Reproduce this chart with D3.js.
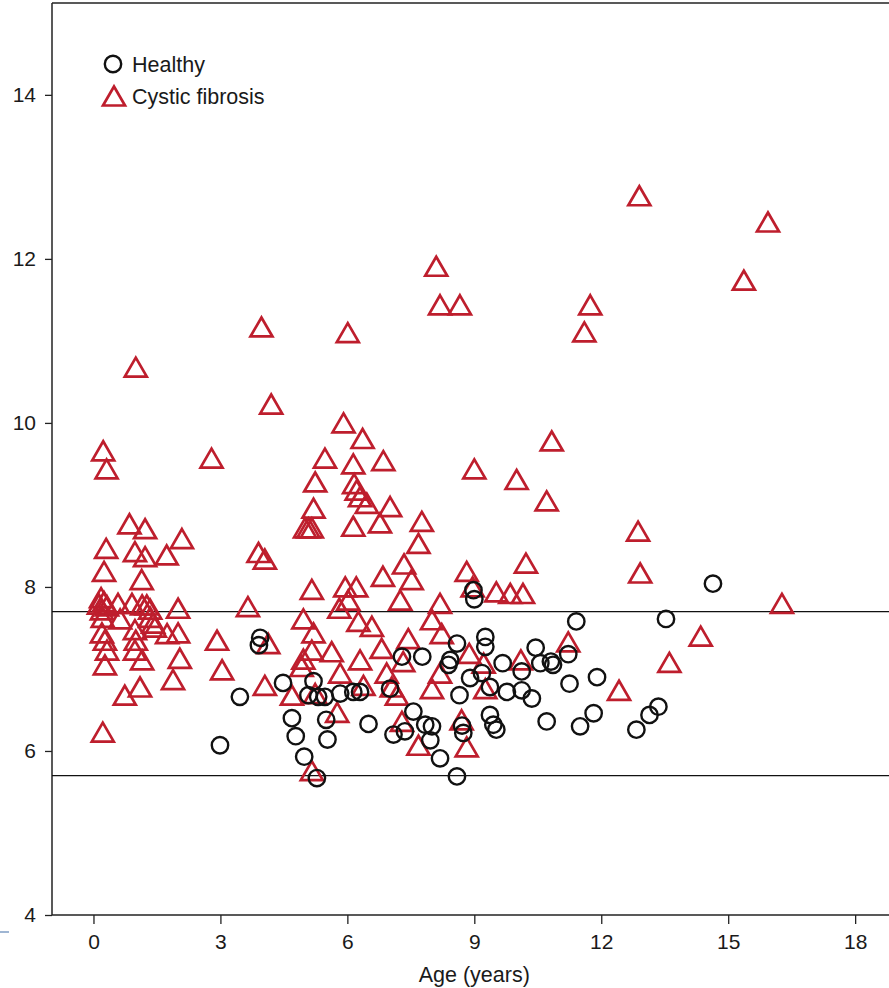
<!DOCTYPE html>
<html>
<head>
<meta charset="utf-8">
<script src="https://cdn.jsdelivr.net/npm/d3@7"></script>
<style>
  html, body { margin: 0; padding: 0; background: #fff; }
  svg { display: block; }
  text { font-family: "Liberation Sans", Arial, Helvetica, sans-serif; fill: #1a1a1a; }
</style>
</head>
<body>
<svg id="chart" width="889" height="988"></svg>
<script>
// Healthy children: age (years) and measured value
const healthyAge = [2.99, 3.46, 3.94, 3.91, 4.48, 4.69, 4.78, 4.98, 5.28, 5.20, 5.08, 5.31, 5.47, 5.83, 6.14, 6.30,
  5.50, 5.53, 6.50, 7.01, 7.29, 7.77, 8.59, 8.43, 8.39, 9.26, 9.26, 8.90, 9.18, 9.67, 10.12, 10.45, 10.56, 10.81,
  10.86, 8.65, 9.37, 9.77, 10.12, 10.36, 7.56, 7.36, 7.09, 7.84, 8.00, 7.96, 8.19, 8.59, 8.71, 8.74, 9.37, 9.45,
  9.52, 10.71, 8.98, 9.00, 11.41, 13.53, 14.64, 11.22, 11.25, 11.90, 11.50, 11.82, 12.83, 13.14, 13.35];
const healthyValue = [6.07, 6.66, 7.38, 7.29, 6.83, 6.40, 6.18, 5.93, 5.67, 6.85, 6.68, 6.66, 6.66, 6.70, 6.72, 6.72,
  6.38, 6.14, 6.33, 6.76, 7.15, 7.15, 7.31, 7.11, 7.05, 7.39, 7.27, 6.89, 6.95, 7.07, 6.97, 7.26, 7.07, 7.09,
  7.05, 6.68, 6.78, 6.72, 6.74, 6.64, 6.48, 6.24, 6.20, 6.32, 6.30, 6.13, 5.91, 5.69, 6.31, 6.22, 6.44, 6.32,
  6.26, 6.36, 7.96, 7.85, 7.58, 7.61, 8.04, 7.18, 6.82, 6.90, 6.30, 6.46, 6.26, 6.44, 6.54];

// Children with cystic fibrosis: age (years) and measured value
const cfAge = [3.97, 6.01, 1.00, 4.20, 5.91, 6.36, 0.23, 0.31, 2.79, 5.47, 6.14, 6.85, 5.24, 6.16, 6.22, 6.30,
  6.46, 7.01, 5.20, 5.00, 5.08, 5.16, 6.14, 6.77, 7.76, 7.68, 9.00, 0.85, 1.22, 2.09, 0.30, 0.98, 1.22, 1.73,
  0.25, 1.14, 3.90, 4.05, 7.34, 6.84, 7.52, 5.16, 5.95, 6.21, 6.02, 5.81, 7.25, 8.82, 8.19, 8.96, 9.52, 9.85,
  10.15, 10.22, 3.65, 4.96, 5.20, 6.26, 6.58, 8.00, 8.23, 4.13, 4.96, 4.92, 5.16, 5.63, 6.30, 6.81, 7.44, 7.32,
  5.83, 6.93, 8.88, 9.22, 8.19, 4.05, 4.69, 5.24, 6.38, 7.05, 7.17, 8.00, 9.26, 5.76, 7.29, 8.70, 7.68, 8.82,
  5.16, 10.10, 10.83, 10.71, 10.00, 11.74, 11.60, 12.90, 15.94, 15.37, 8.10, 8.19, 8.66, 12.87, 12.92, 11.22,
  14.35, 13.61, 12.42, 16.27, 0.18, 0.25, 0.32, 0.20, 0.13, 0.58, 0.91, 1.15, 1.26, 1.34, 2.00, 0.22, 0.63,
  1.34, 1.41, 1.45, 0.98, 1.74, 2.00, 0.20, 0.27, 0.32, 1.00, 0.98, 0.27, 1.15, 2.04, 2.92, 3.04, 1.88, 1.10,
  0.74, 0.22];
const cfValue = [11.17, 11.10, 10.68, 10.23, 10.00, 9.81, 9.66, 9.44, 9.57, 9.57, 9.50, 9.54, 9.28, 9.26, 9.18, 9.10,
  9.02, 8.98, 8.96, 8.72, 8.72, 8.72, 8.74, 8.78, 8.80, 8.53, 9.44, 8.77, 8.71, 8.59, 8.47, 8.43, 8.37, 8.39,
  8.19, 8.09, 8.42, 8.34, 8.28, 8.13, 8.09, 7.97, 8.00, 8.00, 7.84, 7.74, 7.84, 8.19, 7.80, 8.00, 7.94, 7.92,
  7.92, 8.29, 7.76, 7.61, 7.44, 7.58, 7.52, 7.60, 7.43, 7.31, 7.12, 7.03, 7.23, 7.21, 7.11, 7.25, 7.37, 7.09,
  6.95, 6.95, 7.19, 7.07, 6.95, 6.80, 6.68, 6.70, 6.80, 6.78, 6.68, 6.76, 6.76, 6.47, 6.36, 6.38, 6.07, 6.05,
  5.76, 7.11, 9.78, 9.05, 9.31, 11.44, 11.11, 12.77, 12.45, 11.74, 11.91, 11.44, 11.44, 8.68, 8.17, 7.33,
  7.40, 7.08, 6.74, 7.80, 7.87, 7.82, 7.77, 7.72, 7.79, 7.80, 7.80, 7.78, 7.78, 7.73, 7.74, 7.63, 7.61,
  7.63, 7.56, 7.51, 7.48, 7.43, 7.44, 7.44, 7.35, 7.23, 7.35, 7.23, 7.05, 7.11, 7.13, 7.35, 6.99, 6.87, 6.78,
  6.68, 6.23];

// Reference band limits, axis ticks and legend entries
const referenceLines = [7.7, 5.7];
const xTicks = [0, 3, 6, 9, 12, 15, 18];
const yTicks = [4, 6, 8, 10, 12, 14];
const xTitle = "Age (years)";
const legendLabels = ["Healthy", "Cystic fibrosis"];

const red = "#be1e2d";
const svg = d3.select("#chart");
const plot = { left: 52, right: 889, top: 3, bottom: 915 };

const x = d3.scaleLinear().domain([-0.98, 18.8]).range([plot.left, plot.right]);
const y = d3.scaleLinear().domain([4, 15.12]).range([plot.bottom, plot.top]);

// Frame: top border
svg.append("line")
  .attr("x1", plot.left).attr("x2", plot.right)
  .attr("y1", plot.top).attr("y2", plot.top)
  .attr("stroke", "#222").attr("stroke-width", 1.5);

// Axes
const xAxis = svg.append("g")
  .attr("transform", `translate(0,${plot.bottom})`)
  .call(d3.axisBottom(x).tickValues(xTicks).tickSize(9).tickPadding(10).tickFormat(d3.format("d")));
const yAxis = svg.append("g")
  .attr("transform", `translate(${plot.left},0)`)
  .call(d3.axisLeft(y).tickValues(yTicks).tickSize(7).tickPadding(9).tickFormat(d3.format("d")));

[xAxis, yAxis].forEach(g => {
  g.select(".domain").attr("stroke", "#222").attr("stroke-width", 1.5);
  g.selectAll(".tick line").attr("stroke", "#222").attr("stroke-width", 1.3);
  g.selectAll(".tick text")
    .attr("font-size", 21)
    .attr("font-family", "'Liberation Sans', Arial, sans-serif")
    .attr("fill", "#1a1a1a");
});
xAxis.select(".domain").attr("d", `M${plot.left},0H${plot.right}`);
yAxis.select(".domain").attr("d", `M0,${plot.top}V${plot.bottom}`);

// Axis title
svg.append("text")
  .attr("x", x(9)).attr("y", 982)
  .attr("text-anchor", "middle")
  .attr("font-size", 21.5)
  .text(xTitle);

// Small page mark at lower left
svg.append("rect")
  .attr("x", 0).attr("y", 931).attr("width", 9).attr("height", 2)
  .attr("fill", "#9fb6d3");

// Reference lines
svg.selectAll("line.ref")
  .data(referenceLines)
  .join("line")
  .attr("class", "ref")
  .attr("x1", plot.left).attr("x2", plot.right)
  .attr("y1", d => y(d)).attr("y2", d => y(d))
  .attr("stroke", "#111").attr("stroke-width", 1.3);

// Open triangle outline centred on its bounding box
const triW = 22, triH = 19;
const triPath = `M0,${-triH / 2}L${triW / 2},${triH / 2}L${-triW / 2},${triH / 2}Z`;

const cfData = cfAge.map((a, i) => ({ age: a, value: cfValue[i] }));
const healthyData = healthyAge.map((a, i) => ({ age: a, value: healthyValue[i] }));

svg.append("g").selectAll("path")
  .data(cfData)
  .join("path")
  .attr("d", triPath)
  .attr("transform", d => `translate(${x(d.age)},${y(d.value)})`)
  .attr("fill", "none")
  .attr("stroke", red)
  .attr("stroke-width", 2.7)
  .attr("stroke-linejoin", "miter");

svg.append("g").selectAll("circle")
  .data(healthyData)
  .join("circle")
  .attr("cx", d => x(d.age))
  .attr("cy", d => y(d.value))
  .attr("r", 8.2)
  .attr("fill", "none")
  .attr("stroke", "#111")
  .attr("stroke-width", 2.4);

// Legend
const legend = svg.append("g");
legend.append("circle")
  .attr("cx", 113).attr("cy", 64).attr("r", 8.2)
  .attr("fill", "none").attr("stroke", "#111").attr("stroke-width", 2.4);
legend.append("path")
  .attr("d", triPath)
  .attr("transform", "translate(114,96)")
  .attr("fill", "none").attr("stroke", red).attr("stroke-width", 2.7);
legend.selectAll("text")
  .data(legendLabels)
  .join("text")
  .attr("x", 132)
  .attr("y", (d, i) => 72 + i * 32)
  .attr("font-size", 21.5)
  .text(d => d);
</script>
</body>
</html>
